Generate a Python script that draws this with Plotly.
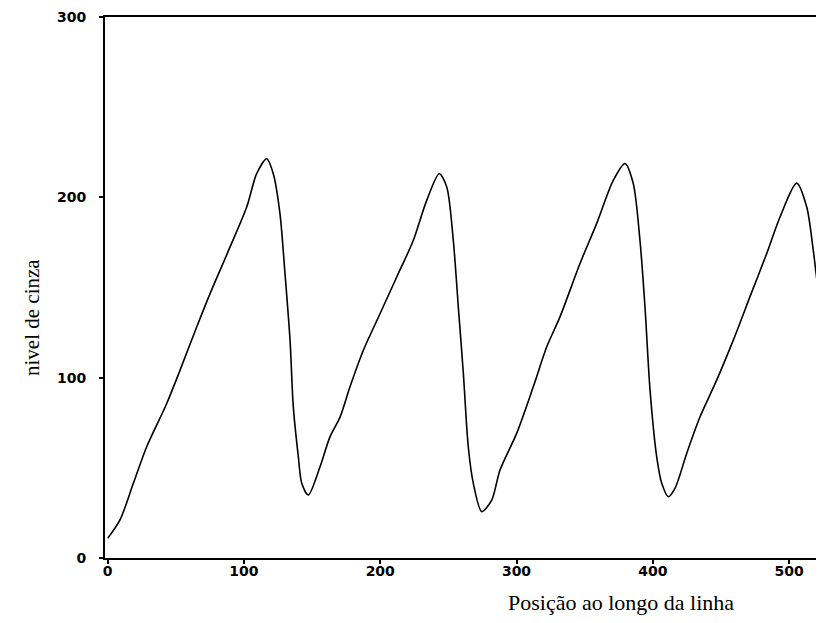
import plotly.graph_objects as go

# Data (position along the line, grey level)
posicao = [0, 9.0, 18.8, 28.6, 43.3, 53.1, 65.3, 75.1, 89.8, 102.0, 109.3, 116.7,
           121.5, 126.4, 130.1, 133.8, 136.2, 139.9, 142.4, 147.2,
           155.8, 163.1, 170.5, 177.8, 187.6, 199.9, 212.1, 224.3, 234.1, 243.3,
           248.8, 253.6, 257.3, 261.0, 264.6, 268.3, 274.5,
           281.8, 287.9, 300.1, 312.3, 322.2, 331.9, 346.6, 358.8, 371.0, 379.6,
           385.7, 390.6, 394.3, 398.0, 402.9, 406.6, 411.4,
           416.3, 424.9, 434.7, 446.9, 459.1, 471.3, 483.6, 493.4, 505.6,
           513.0, 517.8, 521.5, 525.6]
nivel = [10.9, 21.1, 41.4, 61.7, 85.7, 104.2, 128.1, 146.6, 172.5, 194.6, 213.1, 221.4,
         213.1, 191.0, 157.7, 120.8, 83.8, 56.1, 41.4, 34.9,
         50.6, 67.2, 78.1, 94.9, 115.2, 135.6, 155.8, 176.2, 198.3, 213.1,
         205.7, 176.2, 139.2, 102.3, 61.7, 41.4, 25.7,
         32.1, 48.8, 69.1, 94.9, 117.1, 133.7, 163.3, 185.4, 209.4, 218.7,
         207.6, 176.2, 139.2, 93.1, 56.1, 41.4, 34.0,
         38.6, 58.0, 78.3, 98.6, 120.8, 144.8, 168.8, 189.1, 207.9,
         194.6, 170.6, 148.5, 133.7]

x_ticks = [0, 100, 200, 300, 400, 500]
y_ticks = [0, 100, 200, 300]

fig = go.Figure()
fig.add_trace(go.Scatter(
    x=posicao, y=nivel, mode="lines",
    line=dict(color="black", width=1.6, shape="spline", smoothing=0.8),
    showlegend=False, hoverinfo="skip", cliponaxis=True))

tickfont = dict(family="DejaVu Sans", size=14, color="black", weight="bold")

fig.update_layout(
    width=808, height=607,
    margin=dict(l=97, r=0, t=9, b=57, autoexpand=False),
    paper_bgcolor="white", plot_bgcolor="white",
    xaxis=dict(range=[-2, 519.8], tickvals=x_ticks, ticktext=[str(v) for v in x_ticks],
               showgrid=False, zeroline=False, showline=True, linecolor="black",
               linewidth=2, mirror=True, ticks="outside", ticklen=4, tickwidth=1.5,
               tickcolor="black", tickfont=tickfont, ticklabelstandoff=-5,
               automargin=False),
    yaxis=dict(range=[0, 300], tickvals=y_ticks, ticktext=[str(v) for v in y_ticks],
               showgrid=False, zeroline=False, showline=True, linecolor="black",
               linewidth=2, ticks="outside", ticklen=4, tickwidth=1.5,
               tickcolor="black", tickfont=tickfont, ticklabelstandoff=10,
               automargin=False),
    annotations=[
        dict(text="Posição ao longo da linha", xref="paper", yref="paper",
             x=0.7257, y=-0.083, xanchor="center", yanchor="middle", showarrow=False,
             font=dict(family="Liberation Serif", size=22, color="black")),
        dict(text="nivel de cinza", xref="paper", yref="paper",
             x=-0.1027, y=0.4455, xanchor="center", yanchor="middle", showarrow=False,
             textangle=-90,
             font=dict(family="Liberation Serif", size=21, color="black")),
    ],
)

fig.write_html("out.html")
